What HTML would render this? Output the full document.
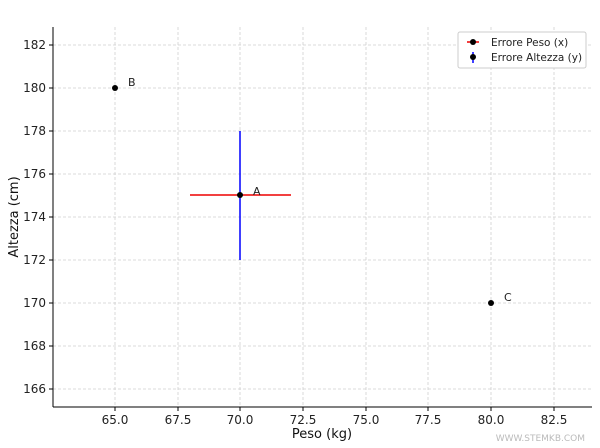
<!DOCTYPE html>
<html><head><style>body{margin:0;background:#fff}svg{display:block}text{font-family:"DejaVu Sans","Liberation Sans",sans-serif}</style></head><body>
<svg width="600" height="448" xmlns="http://www.w3.org/2000/svg">
<g stroke="#d0d0d0" stroke-width="0.8" stroke-dasharray="3,2">
<line x1="115" y1="27" x2="115" y2="407"/><line x1="178" y1="27" x2="178" y2="407"/><line x1="240" y1="27" x2="240" y2="407"/><line x1="303" y1="27" x2="303" y2="407"/><line x1="366" y1="27" x2="366" y2="407"/><line x1="428" y1="27" x2="428" y2="407"/><line x1="491" y1="27" x2="491" y2="407"/><line x1="554" y1="27" x2="554" y2="407"/>
<line x1="53" y1="45" x2="592" y2="45"/><line x1="53" y1="88" x2="592" y2="88"/><line x1="53" y1="131" x2="592" y2="131"/><line x1="53" y1="174" x2="592" y2="174"/><line x1="53" y1="217" x2="592" y2="217"/><line x1="53" y1="260" x2="592" y2="260"/><line x1="53" y1="303" x2="592" y2="303"/><line x1="53" y1="346" x2="592" y2="346"/><line x1="53" y1="389" x2="592" y2="389"/>
</g>
<g stroke="#000" stroke-width="1">
<line x1="53" y1="27" x2="53" y2="407"/><line x1="53" y1="407" x2="592" y2="407"/>
<line x1="115" y1="407" x2="115" y2="411"/><line x1="178" y1="407" x2="178" y2="411"/><line x1="240" y1="407" x2="240" y2="411"/><line x1="303" y1="407" x2="303" y2="411"/><line x1="366" y1="407" x2="366" y2="411"/><line x1="428" y1="407" x2="428" y2="411"/><line x1="491" y1="407" x2="491" y2="411"/><line x1="554" y1="407" x2="554" y2="411"/>
<line x1="49" y1="45" x2="53" y2="45"/><line x1="49" y1="88" x2="53" y2="88"/><line x1="49" y1="131" x2="53" y2="131"/><line x1="49" y1="174" x2="53" y2="174"/><line x1="49" y1="217" x2="53" y2="217"/><line x1="49" y1="260" x2="53" y2="260"/><line x1="49" y1="303" x2="53" y2="303"/><line x1="49" y1="346" x2="53" y2="346"/><line x1="49" y1="389" x2="53" y2="389"/>
</g>
<g font-size="12" fill="#222" text-anchor="middle">
<text x="115" y="424">65.0</text><text x="178" y="424">67.5</text><text x="240" y="424">70.0</text><text x="303" y="424">72.5</text><text x="366" y="424">75.0</text><text x="428" y="424">77.5</text><text x="491" y="424">80.0</text><text x="554" y="424">82.5</text>
</g>
<g font-size="12" fill="#222" text-anchor="end">
<text x="46" y="49">182</text><text x="46" y="92">180</text><text x="46" y="135">178</text><text x="46" y="178">176</text><text x="46" y="221">174</text><text x="46" y="264">172</text><text x="46" y="307">170</text><text x="46" y="350">168</text><text x="46" y="393">166</text>
</g>
<text x="322" y="438" font-size="13" text-anchor="middle" fill="#111">Peso (kg)</text>
<text transform="translate(18,217) rotate(-90)" font-size="13" text-anchor="middle" fill="#111">Altezza (cm)</text>
<text x="585" y="441" font-size="9" text-anchor="end" fill="#bbb">WWW.STEMKB.COM</text>
<line x1="190" y1="195" x2="291" y2="195" stroke="#e00" stroke-width="1.5"/>
<line x1="240" y1="131" x2="240" y2="260" stroke="#00f" stroke-width="1.5"/>
<circle cx="240" cy="195" r="3" fill="#000"/><circle cx="115" cy="88" r="3" fill="#000"/><circle cx="491" cy="303" r="3" fill="#000"/>
<g font-size="11" fill="#222"><text x="253" y="195">A</text><text x="128" y="86">B</text><text x="504" y="301">C</text></g>
<rect x="458" y="32" width="128" height="36" rx="2" fill="#fff" stroke="#ccc"/>
<line x1="467" y1="42" x2="479" y2="42" stroke="#e00" stroke-width="1.5"/><circle cx="473" cy="42" r="3" fill="#000"/>
<line x1="473" y1="52" x2="473" y2="63" stroke="#00f" stroke-width="1.5"/><circle cx="473" cy="57" r="3" fill="#000"/>
<g font-size="10.5" fill="#222"><text x="491" y="46">Errore Peso (x)</text><text x="491" y="61">Errore Altezza (y)</text></g>
</svg>
</body></html>
